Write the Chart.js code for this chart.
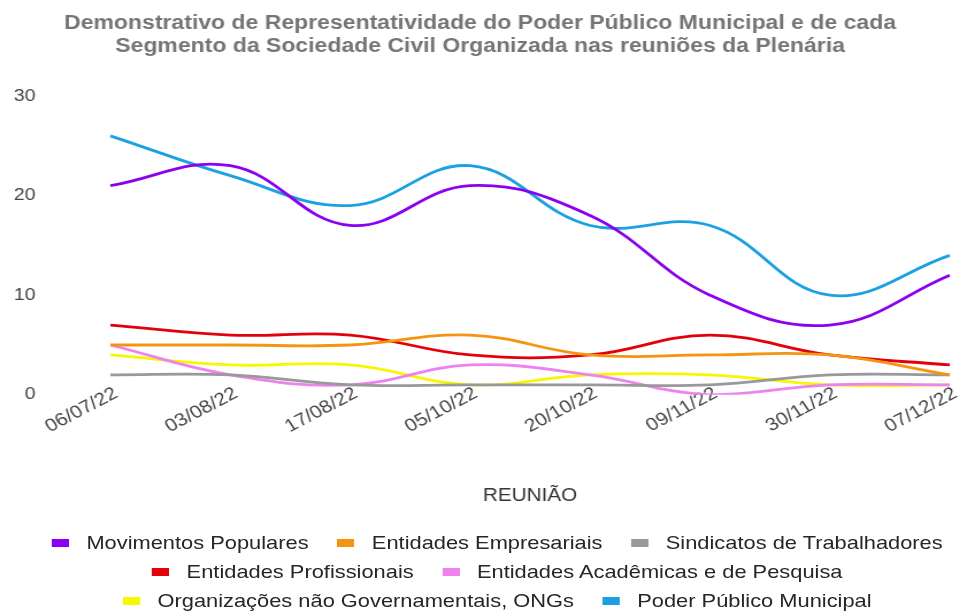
<!DOCTYPE html>
<html>
<head>
<meta charset="utf-8">
<script src="https://cdn.jsdelivr.net/npm/chart.js@4"></script>
<style>
  html, body { margin: 0; padding: 0; background: #fff; overflow: hidden; }
  /* the reference is a bit wider than tall, so the whole drawing is stretched horizontally */
  #wrap { position: relative; width: 841px; height: 612px; transform: scaleX(1.1498); transform-origin: 0 0; }
  #legenda {
    position: absolute; left: 0; top: 532px; width: 841px; box-sizing: border-box; padding-left: 24px;
    display: flex; flex-wrap: wrap; justify-content: center;
    column-gap: 25px; row-gap: 7px;
    font-family: "Liberation Sans", Arial, sans-serif; font-size: 19px; color: #262626;
  }
  .item { display: flex; align-items: center; height: 22px; white-space: nowrap; }
  .caixa { width: 15px; height: 8px; margin-right: 15px; }
</style>
</head>
<body>
<div id="wrap">
  <canvas id="grafico" width="841" height="612"></canvas>
  <div id="legenda"></div>
</div>
<script>
const reunioes = ['06/07/22', '03/08/22', '17/08/22', '05/10/22', '20/10/22', '09/11/22', '30/11/22', '07/12/22'];

const movimentosPopulares = [21, 23, 17, 21, 18, 10, 7, 12];
const entidadesEmpresariais = [5, 5, 5, 6, 4, 4, 4, 2];
const sindicatos = [2, 2, 1, 1, 1, 1, 2, 2];
const entidadesProfissionais = [7, 6, 6, 4, 4, 6, 4, 3];
const entidadesAcademicas = [5, 2, 1, 3, 2, 0, 1, 1];
const ongs = [4, 3, 3, 1, 2, 2, 1, 1];
const poderPublico = [26, 22, 19, 23, 17, 17, 10, 14];

const yTicks = [0, 10, 20, 30];

const series = [
  { label: 'Movimentos Populares', data: movimentosPopulares, color: '#8b00f0' },
  { label: 'Entidades Empresariais', data: entidadesEmpresariais, color: '#f5950f' },
  { label: 'Sindicatos de Trabalhadores', data: sindicatos, color: '#999999' },
  { label: 'Entidades Profissionais', data: entidadesProfissionais, color: '#e3000b' },
  { label: 'Entidades Acadêmicas e de Pesquisa', data: entidadesAcademicas, color: '#ee82ee' },
  { label: 'Organizações não Governamentais, ONGs', data: ongs, color: '#f7f700' },
  { label: 'Poder Público Municipal', data: poderPublico, color: '#1ba1e2' }
];

const fonte = '"Liberation Sans", Arial, sans-serif';

const ctx = document.getElementById('grafico').getContext('2d');
new Chart(ctx, {
  type: 'line',
  data: {
    labels: reunioes,
    datasets: series.map(s => ({
      label: s.label,
      data: s.data,
      borderColor: s.color,
      backgroundColor: s.color,
      borderWidth: 2.8,
      tension: 0.4,
      pointRadius: 0,
      fill: false
    }))
  },
  options: {
    responsive: false,
    animation: false,
    layout: { padding: { left: 9, right: 15, top: 0, bottom: 101 } },
    plugins: {
      legend: { display: false },
      tooltip: { enabled: false },
      title: {
        display: true,
        text: ['Demonstrativo de Representatividade do Poder Público Municipal e de cada',
               'Segmento da Sociedade Civil Organizada nas reuniões da Plenária'],
        color: '#757575',
        font: { family: fonte, size: 20, weight: 'bold', lineHeight: 1.15 },
        padding: { top: 12, bottom: 38 }
      }
    },
    scales: {
      x: {
        grid: { display: false, drawTicks: false },
        border: { display: false },
        // dates sit a little higher than the axis box, so don't clip them to it
        afterUpdate: axis => { axis._computeLabelArea = () => undefined; },
        ticks: {
          color: '#444',
          font: { family: fonte, size: 18 },
          minRotation: 31,
          maxRotation: 31,
          labelOffset: 5,
          padding: -12
        },
        title: {
          display: true,
          text: 'REUNIÃO',
          color: '#333',
          font: { family: fonte, size: 18 },
          padding: { top: 60, bottom: 4 }
        }
      },
      y: {
        min: 0,
        max: 30,
        grid: { display: false, drawTicks: false },
        border: { display: false },
        afterBuildTicks: axis => { axis.ticks = yTicks.map(v => ({ value: v })); },
        afterFit: axis => { axis.width = 87; },
        ticks: {
          color: '#444',
          font: { family: fonte, size: 17 },
          padding: 65
        }
      }
    }
  }
});

const legenda = document.getElementById('legenda');
series.forEach(s => {
  const item = document.createElement('div');
  item.className = 'item';
  const caixa = document.createElement('span');
  caixa.className = 'caixa';
  caixa.style.background = s.color;
  const texto = document.createElement('span');
  texto.textContent = s.label;
  item.appendChild(caixa);
  item.appendChild(texto);
  legenda.appendChild(item);
});
</script>
</body>
</html>
